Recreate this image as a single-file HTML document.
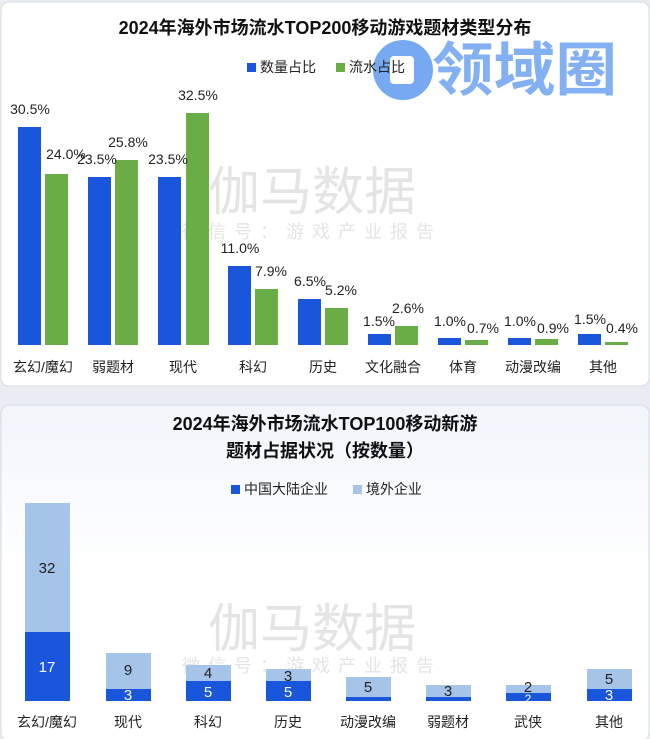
<!DOCTYPE html>
<html><head><meta charset="utf-8"><style>
body{margin:0;width:650px;height:739px;background:#e9edf3;overflow:hidden;font-family:"Liberation Sans","Noto Sans CJK SC",sans-serif}
svg{display:block}
</style></head><body>
<svg width="650" height="739" viewBox="0 0 650 739" xmlns="http://www.w3.org/2000/svg" font-family="Liberation Sans, Noto Sans CJK SC, sans-serif">
<defs><linearGradient id="g2" x1="0" y1="0" x2="0" y2="1"><stop offset="0" stop-color="#f1f5fb"/><stop offset="0.5" stop-color="#ffffff"/></linearGradient></defs>
<rect x="1" y="2" width="648" height="384" rx="8" fill="#fff" stroke="#d6dbe3"/>
<rect x="1" y="405" width="648" height="336" rx="8" fill="url(#g2)" stroke="#d6dbe3"/>
<g fill="#e4e4e4" text-anchor="middle">
<text x="312" y="210" font-size="52">伽马数据</text>
<text x="312" y="238" font-size="18" letter-spacing="8">微信号：游戏产业报告</text>
<text x="312" y="647" font-size="52">伽马数据</text>
<text x="312" y="672" font-size="18" letter-spacing="8">微信号：游戏产业报告</text>
</g>
<text x="325" y="34" font-size="18" font-weight="bold" text-anchor="middle" fill="#111">2024年海外市场流水TOP200移动游戏题材类型分布</text>
<circle cx="403" cy="70" r="30" fill="#5f9af0" opacity="0.85"/>
<rect x="390" y="56" width="24" height="28" rx="4" fill="#fff"/>
<text x="432" y="90" font-size="58" font-weight="bold" fill="#6ea3f0" opacity="0.85" textLength="185" lengthAdjust="spacingAndGlyphs">领域圈</text>
<rect x="247" y="63" width="9" height="9" fill="#1a56db"/><text x="260" y="72" font-size="14" fill="#222">数量占比</text>
<rect x="336" y="63" width="9" height="9" fill="#6aad47"/><text x="349" y="72" font-size="14" fill="#222">流水占比</text>
<g font-size="14" fill="#222" text-anchor="middle">
<rect x="18" y="127" width="23" height="218" fill="#1a56db"/><rect x="45" y="174" width="23" height="171" fill="#6aad47"/>
<text x="30" y="114">30.5%</text><text x="66" y="159">24.0%</text>
<rect x="88" y="177" width="23" height="168" fill="#1a56db"/><rect x="115" y="160" width="23" height="185" fill="#6aad47"/>
<text x="97" y="164">23.5%</text><text x="128" y="147">25.8%</text>
<rect x="158" y="177" width="23" height="168" fill="#1a56db"/><rect x="186" y="113" width="23" height="232" fill="#6aad47"/>
<text x="168" y="164">23.5%</text><text x="198" y="100">32.5%</text>
<rect x="228" y="266" width="23" height="79" fill="#1a56db"/><rect x="255" y="289" width="23" height="56" fill="#6aad47"/>
<text x="240" y="253">11.0%</text><text x="271" y="276">7.9%</text>
<rect x="298" y="299" width="23" height="46" fill="#1a56db"/><rect x="325" y="308" width="23" height="37" fill="#6aad47"/>
<text x="310" y="286">6.5%</text><text x="341" y="295">5.2%</text>
<rect x="368" y="334" width="23" height="11" fill="#1a56db"/><rect x="395" y="326" width="23" height="19" fill="#6aad47"/>
<text x="379" y="326">1.5%</text><text x="408" y="313">2.6%</text>
<rect x="438" y="338" width="23" height="7" fill="#1a56db"/><rect x="465" y="340" width="23" height="5" fill="#6aad47"/>
<text x="450" y="326">1.0%</text><text x="483" y="333">0.7%</text>
<rect x="508" y="338" width="23" height="7" fill="#1a56db"/><rect x="535" y="339" width="23" height="6" fill="#6aad47"/>
<text x="520" y="326">1.0%</text><text x="553" y="333">0.9%</text>
<rect x="578" y="334" width="23" height="11" fill="#1a56db"/><rect x="605" y="342" width="23" height="3" fill="#6aad47"/>
<text x="590" y="324">1.5%</text><text x="622" y="333">0.4%</text>
</g>
<g font-size="14" fill="#222" text-anchor="middle">
<text x="43" y="372">玄幻/魔幻</text><text x="113" y="372">弱题材</text><text x="183" y="372">现代</text><text x="253" y="372">科幻</text><text x="323" y="372">历史</text><text x="393" y="372">文化融合</text><text x="463" y="372">体育</text><text x="533" y="372">动漫改编</text><text x="603" y="372">其他</text>
</g>
<text x="325" y="430" font-size="18" font-weight="bold" text-anchor="middle" fill="#111">2024年海外市场流水TOP100移动新游</text>
<text x="325" y="457" font-size="18" font-weight="bold" text-anchor="middle" fill="#111">题材占据状况（按数量）</text>
<rect x="231" y="485" width="9" height="9" fill="#1a56db"/><text x="244" y="494" font-size="14" fill="#222">中国大陆企业</text>
<rect x="353" y="485" width="9" height="9" fill="#a6c4e8"/><text x="366" y="494" font-size="14" fill="#222">境外企业</text>
<g font-size="15" text-anchor="middle">
<rect x="25" y="503" width="45" height="129" fill="#a6c4e8"/><rect x="25" y="632" width="45" height="69" fill="#1a56db"/>
<text x="47" y="573" fill="#222">32</text><text x="47" y="672" fill="#fff">17</text>
<rect x="106" y="653" width="45" height="36" fill="#a6c4e8"/><rect x="106" y="689" width="45" height="12" fill="#1a56db"/>
<text x="128" y="675" fill="#222">9</text><text x="128" y="700" fill="#fff">3</text>
<rect x="186" y="665" width="45" height="16" fill="#a6c4e8"/><rect x="186" y="681" width="45" height="20" fill="#1a56db"/>
<text x="208" y="678" fill="#222">4</text><text x="208" y="697" fill="#fff">5</text>
<rect x="266" y="669" width="45" height="12" fill="#a6c4e8"/><rect x="266" y="681" width="45" height="20" fill="#1a56db"/>
<text x="288" y="681" fill="#222">3</text><text x="288" y="697" fill="#fff">5</text>
<rect x="346" y="677" width="45" height="20" fill="#a6c4e8"/><rect x="346" y="697" width="45" height="4" fill="#1a56db"/>
<text x="368" y="692" fill="#222">5</text>
<rect x="426" y="685" width="45" height="12" fill="#a6c4e8"/><rect x="426" y="697" width="45" height="4" fill="#1a56db"/>
<text x="448" y="696" fill="#222">3</text>
<rect x="506" y="685" width="45" height="8" fill="#a6c4e8"/><rect x="506" y="693" width="45" height="8" fill="#1a56db"/>
<text x="528" y="692" fill="#222">2</text><text x="528" y="703" fill="#fff" font-size="12">2</text>
<rect x="587" y="669" width="45" height="20" fill="#a6c4e8"/><rect x="587" y="689" width="45" height="12" fill="#1a56db"/>
<text x="609" y="684" fill="#222">5</text><text x="609" y="700" fill="#fff">3</text>
</g>
<g font-size="14" fill="#222" text-anchor="middle">
<text x="47" y="727">玄幻/魔幻</text><text x="128" y="727">现代</text><text x="208" y="727">科幻</text><text x="288" y="727">历史</text><text x="368" y="727">动漫改编</text><text x="448" y="727">弱题材</text><text x="528" y="727">武侠</text><text x="609" y="727">其他</text>
</g>
</svg>
</body></html>
